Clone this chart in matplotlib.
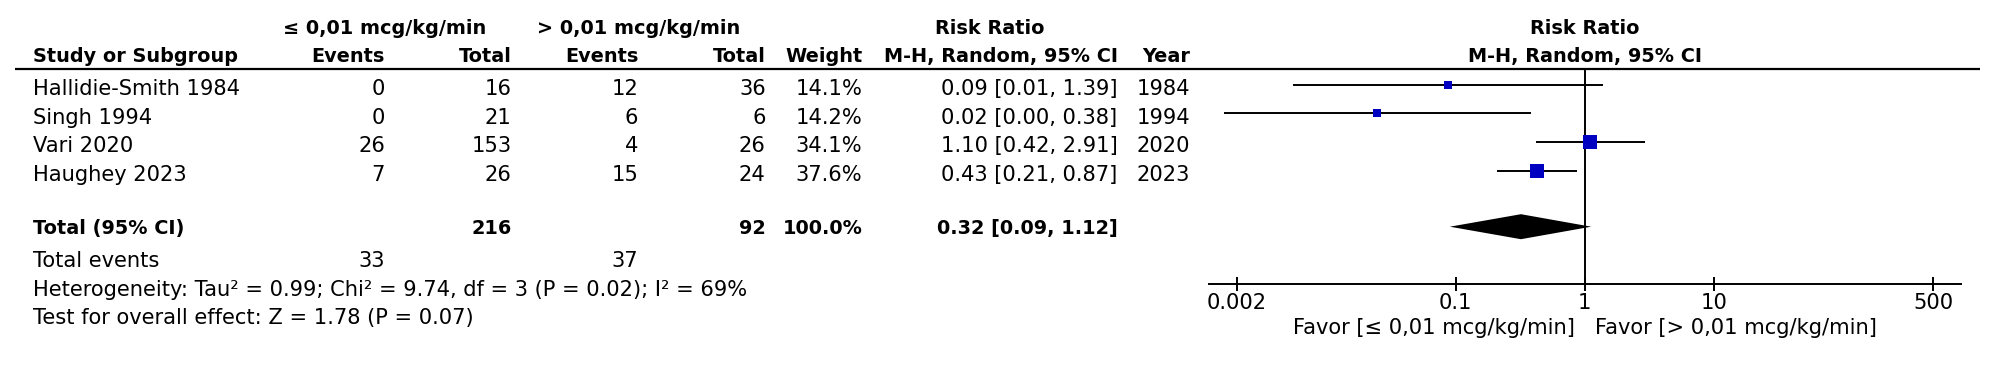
import matplotlib
matplotlib.use("Agg")
import matplotlib.pyplot as plt
import numpy as np

# ---------------- data ----------------
studies = ["Hallidie-Smith 1984", "Singh 1994", "Vari 2020", "Haughey 2023"]
ev_low = [0, 0, 26, 7]
tot_low = [16, 21, 153, 26]
ev_high = [12, 6, 4, 15]
tot_high = [36, 6, 26, 24]
weights = [14.1, 14.2, 34.1, 37.6]
rr = [0.087, 0.0245, 1.10, 0.43]
ci_lo = [0.0055, 0.0016, 0.42, 0.21]
ci_hi = [1.39, 0.38, 2.91, 0.87]
years = [1984, 1994, 2020, 2023]
pooled_rr = 0.32
pooled_lo = 0.09
pooled_hi = 1.12
het_text = "Heterogeneity: Tau\u00b2 = 0.99; Chi\u00b2 = 9.74, df = 3 (P = 0.02); I\u00b2 = 69%"
effect_text = "Test for overall effect: Z = 1.78 (P = 0.07)"
group_low = "\u2264 0,01 mcg/kg/min"
group_high = "> 0,01 mcg/kg/min"
tick_vals = [0.002, 0.1, 1, 10, 500]
tick_labels = ["0.002", "0.1", "1", "10", "500"]

# ---------------- layout (pixels) ----------------
W, H = 1998, 366
DPI = 100
FS = 15.1
FSB = 13.9
plt.rcParams['font.family'] = ['DejaVu Sans']

fig = plt.figure(figsize=(W / DPI, H / DPI), dpi=DPI)
tax = fig.add_axes([0, 0, 1, 1])
tax.set_xlim(0, W)
tax.set_ylim(H, 0)
tax.axis('off')

x_study = 33
x_ev1, x_tot1, x_ev2, x_tot2 = 385, 511.7, 638.3, 765.7
x_w, x_ci, x_year = 862.5, 1117.5, 1190
y_h1, y_h2 = 34, 62.3
rule_y = 69.3
row_base0, pitch = 95, 28.7
y_total = 234.3
y_tev = 266.7
y_het = 296
y_test = 324


def t(x, y, s, ha='right', bold=False, ax=tax):
    ax.text(x, y, s, ha=ha, va='baseline', fontsize=FSB if bold else FS,
            fontweight='bold' if bold else 'normal', color='black')


# headers
t(x_ev1, y_h1, group_low, ha='center', bold=True)
t(x_ev2 + 0.4, y_h1, group_high, ha='center', bold=True)
t(990, y_h1, "Risk Ratio", ha='center', bold=True)
t(x_study, y_h2, "Study or Subgroup", ha='left', bold=True)
t(x_ev1, y_h2, "Events", bold=True)
t(x_tot1, y_h2, "Total", bold=True)
t(x_ev2, y_h2, "Events", bold=True)
t(x_tot2, y_h2, "Total", bold=True)
t(x_w, y_h2, "Weight", bold=True)
t(x_ci, y_h2, "M-H, Random, 95% CI", bold=True)
t(x_year, y_h2, "Year", bold=True)
tax.plot([15, 1980], [rule_y, rule_y], color='black', lw=1.6,
         solid_capstyle='butt')

# study rows
for i, name in enumerate(studies):
    yb = row_base0 + i * pitch
    t(x_study, yb, name, ha='left')
    t(x_ev1, yb, str(ev_low[i]))
    t(x_tot1, yb, str(tot_low[i]))
    t(x_ev2, yb, str(ev_high[i]))
    t(x_tot2, yb, str(tot_high[i]))
    t(x_w, yb, f"{weights[i]:.1f}%")
    t(x_ci, yb, f"{rr[i]:.2f} [{ci_lo[i]:.2f}, {ci_hi[i]:.2f}]")
    t(x_year, yb, str(years[i]))

# total rows
t(x_study, y_total, "Total (95% CI)", ha='left', bold=True)
t(x_tot1, y_total, str(sum(tot_low)), bold=True)
t(x_tot2, y_total, str(sum(tot_high)), bold=True)
t(x_w, y_total, f"{sum(weights):.1f}%", bold=True)
t(x_ci, y_total, f"{pooled_rr:.2f} [{pooled_lo:.2f}, {pooled_hi:.2f}]", bold=True)
t(x_study, y_tev, "Total events", ha='left')
t(x_ev1, y_tev, str(sum(ev_low)))
t(x_ev2, y_tev, str(sum(ev_high)))
t(x_study, y_het, het_text, ha='left')
t(x_study, y_test, effect_text, ha='left')

# ---------------- forest axes ----------------
ax_left, ax_right = 1208.7, 1961.0
fax = fig.add_axes([ax_left / W, 0, (ax_right - ax_left) / W, 1])
fax.set_xscale('log')
fax.set_xlim(10 ** -2.915, 10 ** 2.916)
fax.set_ylim(H, 0)
fax.patch.set_alpha(0)
for s in ['left', 'right', 'top']:
    fax.spines[s].set_visible(False)
axis_y = 284
fax.spines['bottom'].set_position(('data', axis_y))
fax.spines['bottom'].set_linewidth(1.4)
fax.set_yticks([])
fax.set_xticks(tick_vals)
fax.set_xticklabels(tick_labels)
fax.xaxis.set_minor_locator(matplotlib.ticker.NullLocator())
fax.tick_params(axis='x', direction='inout', length=9.5, width=1.4,
                labelsize=FS, pad=1.5)

# header for forest
fax.text(1, y_h1, "Risk Ratio", ha='center', va='baseline', fontsize=FSB,
         fontweight='bold')
fax.text(1, y_h2, "M-H, Random, 95% CI", ha='center', va='baseline',
         fontsize=FSB, fontweight='bold')

# null line
fax.plot([1, 1], [rule_y, axis_y], color='black', lw=1.4, solid_capstyle='butt')

# CIs and squares
for i in range(len(studies)):
    yc = row_base0 - 10.5 + i * pitch
    fax.plot([ci_lo[i], ci_hi[i]], [yc, yc], color='black', lw=1.4,
             solid_capstyle='butt')
    size_px = 14.3 * (weights[i] / max(weights)) ** 0.7
    fax.plot([rr[i]], [yc], marker='s', linestyle='none',
             markersize=size_px * 72 / DPI, color='#0000C0',
             markeredgewidth=0)

# diamond
yd = 226.7
hh = 12.5
fax.fill([pooled_lo, pooled_rr, pooled_hi, pooled_rr],
         [yd, yd - hh, yd, yd + hh], color='black', lw=0)

# favour labels
fax.annotate("Favor [\u2264 0,01 mcg/kg/min]", xy=(1, 334), xycoords='data',
             xytext=(-9.5 * 72 / DPI, 0), textcoords='offset points',
             ha='right', va='baseline', fontsize=FS)
fax.annotate("Favor [> 0,01 mcg/kg/min]", xy=(1, 334), xycoords='data',
             xytext=(10.5 * 72 / DPI, 0), textcoords='offset points',
             ha='left', va='baseline', fontsize=FS)

fig.savefig("out.png", dpi=DPI, facecolor='white')
